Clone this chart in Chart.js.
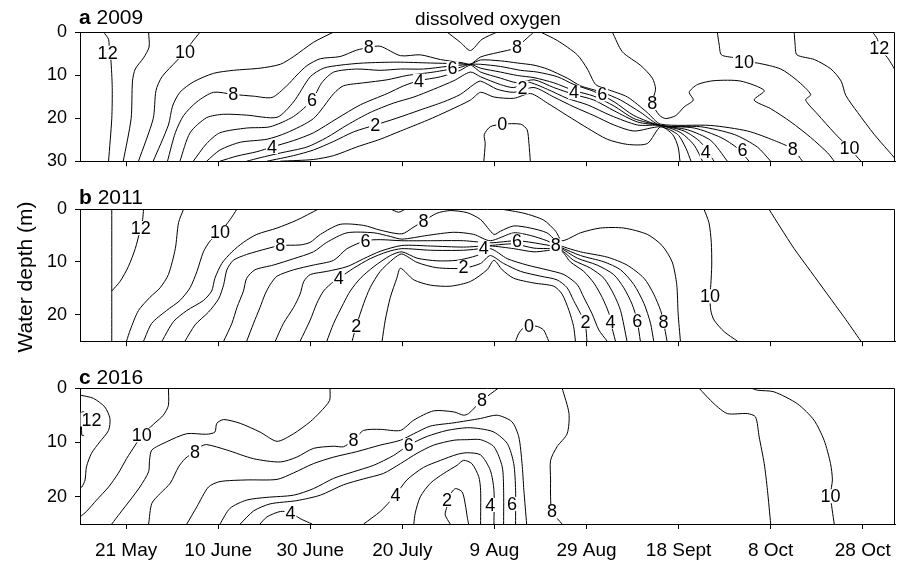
<!DOCTYPE html>
<html>
<head>
<meta charset="utf-8">
<script src="https://cdn.jsdelivr.net/npm/chart.js@4.4.1/dist/chart.umd.min.js"></script>
<style>
  html, body { margin: 0; padding: 0; background: #fff; }
  #wrap { position: relative; width: 907px; height: 564px; }
  #wrap canvas { position: absolute; left: 0; }
</style>
</head>
<body>
<div id="wrap">
  <canvas id="p2009" width="907" height="180" style="top:0"></canvas>
  <canvas id="p2011" width="907" height="180" style="top:180px"></canvas>
  <canvas id="p2016" width="907" height="204" style="top:360px"></canvas>
</div>
<script>
// x axis = day of year, y axis = depth (m)
const tickDays = [141, 161, 181, 201, 221, 241, 261, 281, 301];
const tickNames = ['21 May', '10 June', '30 June', '20 July', '9 Aug', '29 Aug', '18 Sept', '8 Oct', '28 Oct'];
const dayMin = 131, dayMax = 308;

// contour lines, [day, depth]
const lines2009 = [
  [[136.1,0],[137.2,1.7],[137.4,4.9],[137.7,6.4],[138.0,12.9],[137.9,20.1],[137.2,30]],
  [[145.9,0],[146.0,3.5],[144.8,6.0],[143.0,8.6],[142.4,11.4],[142.1,20.1],[140.4,30]],
  [[157.1,0],[155.3,2.4],[153.8,4.6],[152.0,6.7],[148.8,10.4],[147.5,13.6],[146.9,20.1],[143.7,30]],
  [[186.1,0],[181.7,2.4],[177.4,5.7],[174.5,7.5],[170.1,8.4],[164.3,8.9],[160.0,9.6],[155.6,11.6],[152.7,14.0],[151.1,17.2],[150.2,21.6],[146.9,30]],
  [[150.0,30],[151.7,23.4],[153.5,19.4],[156.4,16.2],[160.0,14.0],[164.3,14.5],[168.7,14.9],[172.7,15.2],[175.9,12.5],[178.1,10.0],[180.3,7.8],[183.2,6.2],[187.5,5.7],[191.1,4.2],[193.7,3.6],[196.2,3.3],[200.6,5.5],[204.9,5.3],[209.3,6.4],[214.3,7.2],[215.8,7.5],[218.0,5.8],[221.6,4.8],[224.5,4.1],[225.9,3.5],[228.1,1.4],[229.6,0]],
  [[210.7,0],[213.6,2.4],[215.8,4.3],[218.3,1.7],[221.6,0]],
  [[152.7,30],[154.9,23.4],[158.5,19.9],[162.2,19.1],[167.2,19.3],[173.8,19.8],[177.4,16.2],[181.0,10.4],[183.9,8.4],[187.5,7.7],[192.6,7.2],[199.8,7.0],[207.1,7.2],[214.3,7.4],[215.8,7.5],[218.0,6.5],[222.3,6.7],[226.0,7.2],[229.6,7.7],[232.5,8.6],[236.8,10.7],[239.7,12.5],[244.4,14.0],[248.4,15.8],[252.8,18.7],[257.1,21.7],[265.8,22.0],[273.1,23.8],[278.1,26.7],[281.0,30]],
  [[155.6,30],[158.5,25.9],[161.4,23.4],[167.2,22.3],[172.3,22.0],[177.4,19.6],[181.4,15.8],[183.5,11.8],[186.1,9.3],[191.1,8.6],[196.2,8.9],[200.6,8.6],[205.6,8.6],[210.7,8.0],[215.8,7.5],[218.0,7.5],[222.3,8.0],[226.7,8.9],[230.3,9.3],[234.7,10.4],[238.3,12.2],[242.6,13.8],[247.0,16.2],[251.3,19.4],[257.1,21.7],[264.4,22.3],[270.2,24.5],[273.8,27.0],[276.3,30]],
  [[158.5,30],[161.4,27.4],[165.8,25.6],[171.6,24.9],[175.9,23.4],[181.7,20.1],[186.1,14.3],[188.2,12.5],[192.6,11.8],[197.7,11.1],[202.0,10.1],[207.8,9.3],[213.6,8.2],[215.8,7.5],[218.0,8.4],[222.3,9.3],[226.0,10.1],[229.6,10.6],[233.9,11.8],[238.3,13.6],[242.6,14.9],[247.0,17.2],[251.3,20.1],[257.1,21.7],[262.9,22.7],[268.0,25.2],[271.6,30]],
  [[161.4,30],[165.1,28.8],[169.4,27.8],[172.7,26.7],[177.4,25.2],[181.7,23.4],[186.8,20.1],[191.9,16.9],[197.7,14.3],[201.3,12.5],[204.6,11.3],[209.3,10.4],[213.6,8.9],[215.8,7.7],[218.0,9.3],[222.3,10.7],[226.0,11.8],[229.6,11.1],[233.9,12.9],[238.3,14.5],[242.6,15.8],[247.0,18.3],[252.1,20.9],[257.1,21.7],[262.2,23.0],[265.8,25.6],[268.7,30]],
  [[167.2,30],[170.1,29.2],[174.5,28.1],[180.3,26.7],[184.6,24.5],[189.0,21.6],[194.0,18.7],[199.1,16.5],[203.5,15.1],[207.8,13.3],[212.2,11.3],[215.8,9.3],[218.0,10.4],[222.3,12.2],[225.2,12.9],[228.1,11.6],[232.5,13.3],[236.8,15.4],[241.2,16.9],[246.3,19.4],[252.1,21.6],[257.1,21.7],[261.5,23.4],[264.4,26.3],[266.2,30]],
  [[171.6,30],[177.4,28.7],[181.7,27.4],[186.1,25.4],[190.4,23.2],[195.1,21.6],[199.8,20.0],[204.9,18.1],[210.0,16.2],[213.6,14.5],[216.5,12.2],[218.0,11.4],[221.6,13.3],[225.2,14.0],[229.6,12.9],[233.9,15.1],[238.3,17.4],[242.6,19.4],[247.0,21.6],[251.3,23.0],[257.1,22.0],[260.8,23.8],[262.6,27.0],[263.7,30]],
  [[174.5,30],[181.7,29.6],[186.1,28.7],[191.1,26.7],[196.2,24.9],[200.6,23.0],[206.4,20.5],[211.4,18.1],[215.8,15.8],[218.0,14.0],[220.9,15.1],[225.2,15.4],[228.9,14.3],[232.5,16.5],[236.8,19.4],[241.2,22.3],[245.5,24.9],[249.9,26.1],[254.2,25.9],[257.1,22.0],[259.7,23.8],[260.9,26.7],[261.3,30]],
  [[231.0,0],[234.7,2.0],[239.0,5.3],[241.2,8.6],[243.0,12.2],[245.5,13.3],[249.9,15.1],[254.2,18.7],[257.1,21.4],[268.0,21.7],[276.0,23.0],[281.8,25.2],[285.8,27.2],[287.9,30]],
  [[246.6,0],[248.8,4.6],[252.8,7.8],[255.3,10.7],[256.0,13.3],[255.3,16.5],[256.8,19.3],[258.2,20.1],[260.4,19.4],[262.2,17.4],[264.2,15.8],[263.3,14.0],[265.1,12.2],[268.7,11.3],[274.5,11.4],[279.6,13.6],[277.4,15.8],[281.0,17.8],[285.4,20.9],[289.7,24.5],[293.4,28.1],[294.8,30]],
  [[269.4,0],[269.8,2.8],[270.3,5.3],[273.1,6.0],[275.2,7.0],[278.1,7.2],[283.2,8.6],[286.8,11.3],[289.7,14.5],[288.6,15.8],[291.2,19.1],[294.8,23.4],[297.0,25.8],[298.1,27.0],[300.6,30]],
  [[286.1,0],[286.3,2.8],[286.7,5.3],[290.5,6.4],[294.1,8.6],[296.3,11.4],[297.3,14.7],[299.9,18.7],[303.5,23.8],[306.4,27.4],[308.2,29.6]],
  [[303.1,0],[304.2,1.7],[304.6,3.8],[306.4,6.0],[307.9,8.6],[308.2,9.3]],
  [[218.7,30],[219.0,25.9],[218.8,23.8],[220.1,22.0],[222.7,21.4],[226.7,21.4],[228.1,22.7],[228.5,25.9],[228.8,30]]
];
const marks2009 = [
  [137.0,4.8,'12'],[153.8,4.6,'10'],[164.3,14.5,'8'],[193.7,3.6,'8'],[225.9,3.5,'8'],
  [181.4,15.8,'6'],[211.9,8.4,'6'],[244.4,14.5,'6'],[274.9,27.4,'6'],
  [172.7,26.7,'4'],[204.6,11.3,'4'],[238.3,14.0,'4'],[266.9,27.8,'4'],
  [195.1,21.6,'2'],[227.1,12.9,'2'],[222.7,21.4,'0'],
  [255.3,16.5,'8'],[285.8,27.2,'8'],[275.2,7.0,'10'],[298.1,27.0,'10'],[304.6,3.8,'12']
];

const lines2011 = [
  [[137.9,0],[137.9,25]],
  [[144.8,0],[144.6,2.0],[144.0,4.2],[143.0,7.5],[141.5,10.9],[139.7,13.7],[137.9,15.5]],
  [[153.5,0],[152.4,2.6],[151.7,7.5],[150.2,12.4],[148.4,14.9],[146.2,16.7],[143.7,19.2],[141.9,22.9],[141.1,25]],
  [[165.1,0],[163.6,2.0],[161.4,4.4],[159.3,6.0],[157.8,8.1],[156.4,11.8],[154.9,14.9],[152.7,17.3],[149.8,19.2],[146.6,21.6],[144.8,25]],
  [[182.8,0],[178.1,2.1],[173.8,3.6],[169.4,4.8],[166.5,6.3],[164.0,8.1],[161.8,10.3],[160.3,13.1],[159.6,15.5],[157.8,17.3],[154.2,19.2],[151.3,21.3],[148.8,25]],
  [[153.8,25],[156.0,21.9],[158.9,19.5],[161.1,17.0],[162.2,14.3],[162.9,11.5],[164.3,9.7],[167.2,8.6],[171.6,7.5],[174.5,6.9],[178.8,6.8],[181.0,6.3],[183.2,4.8],[187.5,2.9],[192.6,3.1],[196.2,4.0],[200.9,4.7],[203.5,3.4],[205.6,2.3],[208.5,0.8],[211.4,0.3],[215.1,0.7],[218.0,2.0],[220.9,4.8],[222.3,4.2],[225.2,3.2],[228.8,3.6],[232.4,4.5],[234.3,6.0],[235.3,6.9],[239.7,8.1],[245.5,9.1],[249.8,10.6],[253.5,13.1],[255.6,16.1],[257.1,19.2],[257.7,21.3],[258.5,25]],
  [[162.2,25],[164.0,21.6],[165.1,18.6],[166.5,15.5],[167.2,13.1],[169.0,11.5],[173.0,10.6],[177.4,9.4],[181.7,8.1],[184.6,6.3],[189.0,4.5],[194.8,4.5],[198.4,5.2],[200.9,5.7],[206.4,5.0],[212.2,4.4],[216.5,4.8],[220.1,6.0],[225.2,4.5],[228.8,5.0],[232.4,6.0],[235.3,7.2],[239.7,8.8],[244.8,10.0],[248.4,11.5],[251.3,14.3],[253.5,17.9],[254.9,21.6],[255.6,25]],
  [[167.2,25],[168.7,21.6],[170.1,18.6],[171.2,16.1],[172.3,14.3],[173.8,12.7],[177.4,11.5],[181.7,10.6],[186.1,9.7],[189.0,7.5],[193.0,6.0],[196.2,5.8],[200.9,6.0],[207.1,6.0],[214.3,6.0],[220.1,6.4],[225.9,6.0],[231.0,6.6],[235.3,7.4],[239.0,9.3],[243.3,10.6],[246.9,12.4],[249.1,14.9],[250.9,18.0],[252.0,21.1],[252.7,25]],
  [[173.4,25],[175.2,21.6],[177.4,18.6],[178.8,16.1],[179.6,13.7],[181.0,12.4],[184.6,11.8],[189.0,10.9],[192.6,9.4],[196.2,8.0],[200.9,6.9],[207.1,7.0],[214.3,7.2],[220.1,6.9],[225.2,6.6],[229.6,7.4],[235.3,7.7],[238.2,9.7],[241.9,11.2],[244.8,13.1],[246.9,16.1],[248.4,19.2],[249.8,25]],
  [[178.8,25],[181.0,21.0],[182.4,17.9],[183.9,15.5],[186.1,13.7],[187.2,13.1],[190.4,11.2],[194.0,9.4],[197.7,8.1],[200.9,7.5],[207.1,7.8],[214.3,7.8],[218.7,7.4],[220.1,7.0],[225.2,7.5],[229.6,8.1],[235.3,7.8],[237.5,10.0],[240.4,11.8],[242.6,14.0],[244.4,16.7],[245.9,19.8],[246.2,21.3],[247.3,25]],
  [[184.6,25],[186.1,21.6],[188.2,17.9],[189.7,15.5],[191.9,13.1],[194.8,10.9],[198.4,8.8],[200.9,8.1],[204.2,9.3],[208.5,9.8],[212.9,9.7],[217.2,8.8],[220.1,7.5],[223.8,9.4],[228.1,10.6],[232.4,11.5],[236.1,12.4],[239.0,14.3],[240.4,16.7],[242.2,19.8],[243.7,22.9],[245.5,25]],
  [[190.1,25],[191.0,22.1],[192.6,17.9],[194.0,14.9],[196.2,11.8],[199.1,9.4],[200.9,8.5],[204.2,10.1],[208.5,11.1],[214.3,11.2],[218.0,10.3],[220.1,8.8],[223.0,10.3],[226.7,11.8],[231.0,12.7],[234.6,13.4],[236.8,14.9],[238.2,17.3],[239.7,19.8],[240.8,22.2],[241.1,25]],
  [[196.6,25],[197.3,21.0],[198.4,16.7],[199.8,13.1],[200.6,11.2],[203.5,13.4],[207.1,14.4],[211.4,14.6],[215.8,13.7],[219.4,11.5],[220.9,9.7],[222.7,11.5],[225.2,13.1],[229.6,14.0],[233.9,14.6],[235.7,16.1],[237.2,19.2],[238.2,22.2],[238.6,25]],
  [[222.3,0],[227.4,0.8],[231.7,2.1],[234.3,4.2],[235.7,6.0],[239.7,4.5],[244.0,3.6],[249.1,3.6],[254.2,4.8],[257.4,6.9],[259.6,10.0],[260.6,14.3],[260.9,19.8],[261.4,25]],
  [[198.4,0],[200.2,0.6],[201.7,0]],
  [[225.6,25],[226.3,23.5],[227.4,22.4],[228.5,22.1],[230.3,22.2],[231.7,22.9],[232.8,25]],
  [[266.5,0],[267.6,2.6],[268.1,6.3],[268.2,10.6],[268.0,14.3],[267.8,16.5],[268.0,19.2],[268.7,21.0],[270.9,23.2],[273.8,25]],
  [[280.6,0],[283.2,3.6],[286.1,7.5],[289.7,11.8],[293.3,16.1],[296.9,20.4],[300.6,25]]
];
const marks2011 = [
  [144.2,3.6,'12'],[161.4,4.4,'10'],[174.5,6.9,'8'],[205.6,2.3,'8'],[234.3,6.9,'8'],[257.7,21.3,'8'],
  [193.0,6.0,'6'],[225.9,6.0,'6'],[252.0,21.1,'6'],
  [187.2,13.1,'4'],[218.7,7.4,'4'],[246.2,21.3,'4'],
  [191.0,22.1,'2'],[214.3,11.0,'2'],[240.8,21.3,'2'],
  [228.5,22.1,'0'],[267.8,16.5,'10']
];

const lines2016 = [
  [[131.0,1.3],[133.9,1.9],[136.4,3.5],[137.5,5.6],[137.2,7.8],[135.3,9.9],[133.5,12.0],[132.4,14.5],[132.1,16.9],[131.4,18.2],[131.0,18.2]],
  [[131.9,4.4],[131.4,4.4],[131.4,8.7],[131.9,8.7]],
  [[150.2,0],[150.2,3.2],[149.1,5.0],[147.3,6.4],[145.5,7.8],[144.4,8.7],[143.0,10.5],[141.1,13.0],[139.3,15.7],[137.2,18.2],[134.6,20.6],[132.4,22.7],[131.0,23.7]],
  [[185.3,0],[185.2,2.3],[183.2,4.4],[181.0,6.2],[177.4,8.4],[173.8,9.8],[170.1,8.1],[165.8,6.5],[162.2,5.8],[160.7,6.5],[160.3,8.1],[158.5,8.5],[154.2,8.4],[149.8,9.9],[146.6,11.4],[146.1,13.3],[145.9,15.4],[144.0,18.2],[141.9,20.6],[139.7,23.0],[137.9,25]],
  [[145.9,25],[146.6,21.2],[148.4,19.4],[150.6,17.5],[152.4,14.5],[153.8,13.0],[154.9,12.3],[156.0,11.7],[157.1,10.8],[158.5,10.4],[162.9,11.4],[168.7,13.0],[174.5,13.6],[178.1,12.7],[181.7,11.1],[186.1,10.7],[188.2,10.8],[190.4,9.6],[192.6,7.8],[196.2,7.6],[200.6,7.8],[203.5,5.9],[207.8,4.2],[212.2,4.4],[214.3,5.0],[215.4,4.7],[218.3,2.3],[221.9,0]],
  [[154.2,25],[156.4,21.8],[158.9,18.2],[161.4,17.2],[167.2,16.9],[173.8,16.8],[177.4,15.6],[181.7,13.9],[186.1,12.7],[191.1,11.7],[196.2,10.5],[200.6,9.6],[203.5,8.4],[207.1,7.0],[212.2,6.4],[218.0,5.6],[221.6,5.0],[224.8,6.2],[226.3,9.0],[227.0,13.9],[227.4,18.8],[228.0,25]],
  [[161.4,25],[163.6,22.1],[167.2,20.6],[171.6,20.1],[177.4,19.7],[181.7,18.5],[186.1,16.6],[190.4,15.4],[194.8,14.2],[199.1,12.4],[202.4,10.5],[206.4,8.9],[210.7,7.8],[215.1,7.3],[218.0,7.5],[220.9,8.1],[223.8,10.2],[225.2,13.9],[225.6,18.8],[225.6,25]],
  [[165.8,25],[168.7,22.6],[172.3,21.3],[178.1,20.7],[183.2,19.7],[188.2,17.8],[192.6,16.7],[196.9,15.7],[200.6,13.9],[204.2,12.0],[207.8,10.5],[212.2,9.6],[215.1,9.5],[218.0,9.5],[220.9,10.8],[222.7,14.5],[223.0,18.8],[223.0,25]],
  [[192.6,25],[196.2,22.7],[199.5,19.7],[202.0,16.9],[205.6,14.6],[209.3,13.3],[212.9,12.2],[215.1,11.9],[218.0,12.3],[220.1,15.1],[220.9,18.8],[220.9,25]],
  [[170.1,25],[171.6,23.7],[174.5,22.7],[176.7,22.9],[178.8,24.0],[181.4,25]],
  [[203.5,25],[203.8,23.0],[204.9,20.0],[207.1,17.5],[210.0,15.7],[212.9,14.2],[214.3,13.3],[216.1,13.9],[217.6,16.3],[218.0,18.8],[218.0,25]],
  [[211.4,25],[210.3,23.3],[210.7,21.8],[211.1,20.0],[212.5,18.5],[214.0,19.1],[214.7,21.5],[215.1,23.7],[215.4,25]],
  [[235.7,0],[237.2,4.7],[236.8,8.4],[234.6,10.8],[233.2,13.3],[233.2,16.9],[233.2,20.0],[233.5,22.7],[235.7,25]],
  [[265.4,0],[268.7,2.9],[271.6,4.7],[275.9,4.7],[277.7,5.3],[278.5,9.0],[279.6,13.9],[280.3,18.8],[281.0,25]],
  [[276.7,0],[278.1,0.4],[281.7,0.7],[286.8,2.9],[290.4,5.9],[292.6,9.6],[294.0,13.9],[294.4,16.9],[294.0,19.7],[294.8,25]]
];
const marks2016 = [
  [133.5,5.8,'12'],[144.4,8.7,'10'],[156.0,11.7,'8'],[190.4,9.6,'8'],[218.3,2.3,'8'],[233.5,22.7,'8'],
  [202.4,10.5,'6'],[224.8,21.3,'6'],[176.7,22.9,'4'],[199.5,19.7,'4'],[220.1,21.5,'4'],
  [210.7,20.6,'2'],[294.0,19.9,'10']
];

const FONT = '"Liberation Sans", Arial, Helvetica, sans-serif';
Chart.defaults.font.family = FONT;
Chart.defaults.color = '#000';

// top and right edges of each panel box
const frameBox = {
  id: 'frameBox',
  afterDraw(chart) {
    const { ctx, chartArea: a } = chart;
    const t = Math.round(a.top) + 0.5, r = Math.round(a.right) - 0.5;
    ctx.save();
    ctx.strokeStyle = '#000';
    ctx.lineWidth = 1;
    ctx.beginPath();
    ctx.moveTo(a.left, t);
    ctx.lineTo(r, t);
    ctx.lineTo(r, a.bottom);
    ctx.stroke();
    ctx.restore();
  }
};

// contour value labels with a white patch under them
function levelLabels(marks) {
  return {
    id: 'levelLabels',
    afterDatasetsDraw(chart) {
      const { ctx, scales } = chart;
      ctx.save();
      ctx.font = '18px ' + FONT;
      ctx.textAlign = 'center';
      ctx.textBaseline = 'middle';
      marks.forEach(m => {
        const x = scales.x.getPixelForValue(m[0]);
        const y = scales.y.getPixelForValue(m[1]);
        const w = ctx.measureText(m[2]).width;
        ctx.fillStyle = '#fff';
        ctx.fillRect(x - w / 2 - 1, y - 7, w + 2, 14);
        ctx.fillStyle = '#000';
        ctx.fillText(m[2], x, y + 1);
      });
      ctx.restore();
    }
  };
}

function panelText(letter, year, extra) {
  return {
    id: 'panelText',
    afterDraw(chart) {
      const ctx = chart.ctx;
      ctx.save();
      ctx.fillStyle = '#000';
      ctx.textBaseline = 'alphabetic';
      ctx.textAlign = 'left';
      ctx.font = 'bold 21px ' + FONT;
      ctx.fillText(letter, 79, 24);
      const w = ctx.measureText(letter).width;
      ctx.font = '21px ' + FONT;
      ctx.fillText(' ' + year, 79 + w, 24);
      if (extra) extra(ctx);
      ctx.restore();
    }
  };
}

function makePanel(id, lines, marks, depthMax, padTop, axisH, showDates, letter, year, extra) {
  return new Chart(document.getElementById(id), {
    type: 'scatter',
    data: {
      datasets: lines.map(pts => ({
        data: pts.map(p => ({ x: p[0], y: p[1] })),
        showLine: true,
        borderColor: '#000',
        borderWidth: 1,
        pointRadius: 0,
        tension: 0.25,
        fill: false
      }))
    },
    options: {
      responsive: false,
      animation: false,
      events: [],
      layout: { padding: { top: padTop, right: 12, left: 0, bottom: 0 } },
      plugins: { legend: { display: false }, tooltip: { enabled: false } },
      scales: {
        x: {
          type: 'linear', min: dayMin, max: dayMax,
          afterBuildTicks: s => { s.ticks = tickDays.map(v => ({ value: v })); },
          afterFit: s => { s.height = axisH; },
          grid: { drawOnChartArea: false, drawTicks: true, tickLength: 5, color: '#000' },
          border: { color: '#000', width: 1 },
          ticks: {
            display: showDates, autoSkip: false, maxRotation: 0, padding: 10,
            color: '#000', font: { size: 19 },
            callback: v => tickNames[tickDays.indexOf(v)]
          }
        },
        y: {
          type: 'linear', reverse: true, min: 0, max: depthMax,
          afterFit: s => { s.width = 80; },
          grid: { drawOnChartArea: false, drawTicks: true, tickLength: 5, color: '#000' },
          border: { color: '#000', width: 1 },
          ticks: { stepSize: 10, includeBounds: false, padding: 8, color: '#000', font: { size: 18 } }
        }
      }
    },
    plugins: [levelLabels(marks), frameBox, panelText(letter, year, extra)]
  });
}

makePanel('p2009', lines2009, marks2009, 30, 32, 10, false, 'a', '2009', ctx => {
  ctx.font = '19px ' + FONT;
  ctx.textAlign = 'center';
  ctx.fillText('dissolved oxygen', 488, 25);
});
makePanel('p2011', lines2011, marks2011, 25, 29, 15, false, 'b', '2011', ctx => {
  ctx.font = '21px ' + FONT;
  ctx.textAlign = 'center';
  ctx.translate(32, 97);
  ctx.rotate(-Math.PI / 2);
  ctx.fillText('Water depth (m)', 0, 0);
});
makePanel('p2016', lines2016, marks2016, 25, 28, 40, true, 'c', '2016');
</script>
</body>
</html>
